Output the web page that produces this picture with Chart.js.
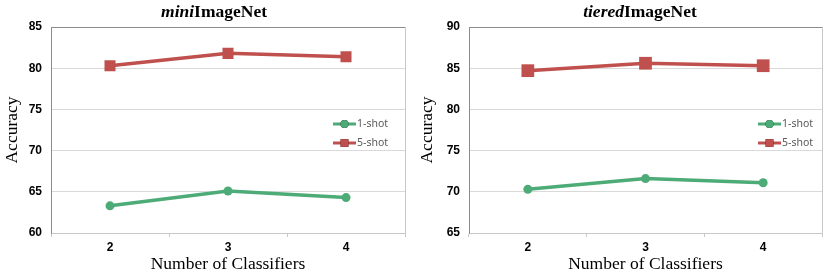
<!DOCTYPE html>
<html>
<head>
<meta charset="utf-8">
<script src="https://cdn.jsdelivr.net/npm/chart.js@4"></script>
<style>
  html, body { margin: 0; padding: 0; background: #fff; }
  .wrap { position: absolute; top: 0; height: 275px; }
  .ttl { position: absolute; top: 1px; font: bold 17.5px "Liberation Serif", serif; color: #000; white-space: nowrap; transform: translateX(-50%); }
</style>
</head>
<body>
<div class="wrap" style="left:0;width:415px">
  <canvas id="c1" width="415" height="275"></canvas>
  <div class="ttl" style="left:214px"><i>mini</i>ImageNet</div>
</div>
<div class="wrap" style="left:415px;width:416px">
  <canvas id="c2" width="416" height="275"></canvas>
  <div class="ttl" style="left:225px"><i>tiered</i>ImageNet</div>
</div>
<script>
const classifiers = ["2", "3", "4"];
const seriesNames = ["1-shot", "5-shot"];
const miniOneShot = [63.3, 65.1, 64.3];
const miniFiveShot = [80.3, 81.8, 81.4];
const tieredOneShot = [70.3, 71.6, 71.1];
const tieredFiveShot = [84.7, 85.6, 85.3];

const GREEN = "#4dab77";
const RED = "#c0504d";

// legend drawn inside the plot area, Excel style
const innerLegend = {
  id: "innerLegend",
  afterDraw(chart, args, opts) {
    const { ctx, chartArea } = chart;
    const x1 = chartArea.right - opts.fromRight;
    const x2 = x1 + 23;
    chart.data.datasets.forEach((ds, i) => {
      const y = chartArea.top + opts.rows[i];
      ctx.save();
      ctx.strokeStyle = ds.borderColor;
      ctx.lineWidth = 3;
      ctx.beginPath();
      ctx.moveTo(x1, y);
      ctx.lineTo(x2, y);
      ctx.stroke();
      Chart.helpers.drawPoint(ctx, {
        pointStyle: ds.pointStyle,
        radius: ds.pointStyle === "rect" ? 5.5 : 4,
        borderWidth: 0
      }, (x1 + x2) / 2, y);
      ctx.fillStyle = ds.borderColor;
      ctx.fill();
      ctx.fillStyle = "#595959";
      ctx.font = "10.5px 'Noto Sans'";
      ctx.textBaseline = "middle";
      ctx.fillText(ds.label, x2 + 1, y);
      ctx.restore();
    });
  }
};

// frame on top and right of the plot
const frame = {
  id: "frame",
  beforeDatasetsDraw(chart) {
    const { ctx, chartArea } = chart;
    ctx.save();
    ctx.strokeStyle = "#8c8c8c";
    ctx.lineWidth = 1;
    ctx.beginPath();
    ctx.moveTo(chartArea.left, chartArea.top + 0.5);
    ctx.lineTo(chartArea.right, chartArea.top + 0.5);
    ctx.stroke();
    ctx.strokeStyle = "#c8c8c8";
    ctx.beginPath();
    ctx.moveTo(chartArea.right + 0.5, chartArea.top);
    ctx.lineTo(chartArea.right + 0.5, chartArea.bottom);
    ctx.stroke();
    ctx.restore();
  }
};

function makeChart(id, one, five, yMin, yMax, yWidth, padRight, legendRight, sq) {
  return new Chart(document.getElementById(id), {
    type: "line",
    data: {
      labels: classifiers,
      datasets: [
        {
          label: seriesNames[0],
          data: one,
          borderColor: GREEN,
          backgroundColor: GREEN,
          borderWidth: 3.5,
          pointStyle: "circle",
          pointRadius: 4.5,
          pointBorderWidth: 0
        },
        {
          label: seriesNames[1],
          data: five,
          borderColor: RED,
          backgroundColor: RED,
          borderWidth: 3.5,
          pointStyle: "rect",
          pointRadius: sq,
          pointBorderWidth: 0
        }
      ]
    },
    options: {
      responsive: false,
      animation: false,
      layout: { padding: { top: 27, right: padRight, left: 0, bottom: 0 } },
      plugins: {
        legend: { display: false },
        tooltip: { enabled: false },
        innerLegend: { fromRight: legendRight, rows: [97, 116] }
      },
      scales: {
        x: {
          offset: true,
          grid: { offset: true, drawOnChartArea: false, drawTicks: true, tickLength: 4, color: "#c8c8c8" },
          border: { color: "#c8c8c8" },
          ticks: { color: "#000", font: { family: "'Liberation Sans'", weight: "bold", size: 12 }, padding: 3 },
          title: { display: true, text: "Number of Classifiers", color: "#000", font: { family: "'Liberation Serif'", size: 17.5 }, padding: { top: 0, bottom: 0 } },
          afterFit(s) { s.height = 42; }
        },
        y: {
          min: yMin,
          max: yMax,
          ticks: { stepSize: 5, color: "#000", font: { family: "'Liberation Sans'", weight: "bold", size: 12 }, padding: 9 },
          grid: { color: "#d9d9d9", drawTicks: false },
          border: { color: "#8c8c8c" },
          title: { display: true, text: "Accuracy", color: "#000", font: { family: "'Liberation Serif'", size: 17.5 }, padding: { top: 2, bottom: 0 } },
          afterFit(s) { s.width = yWidth; }
        }
      }
    },
    plugins: [frame, innerLegend]
  });
}

makeChart("c1", miniOneShot, miniFiveShot, 60, 85, 51, 10, 72, 7.8);
makeChart("c2", tieredOneShot, tieredFiveShot, 65, 90, 54, 7, 64, 9);
</script>
</body>
</html>
